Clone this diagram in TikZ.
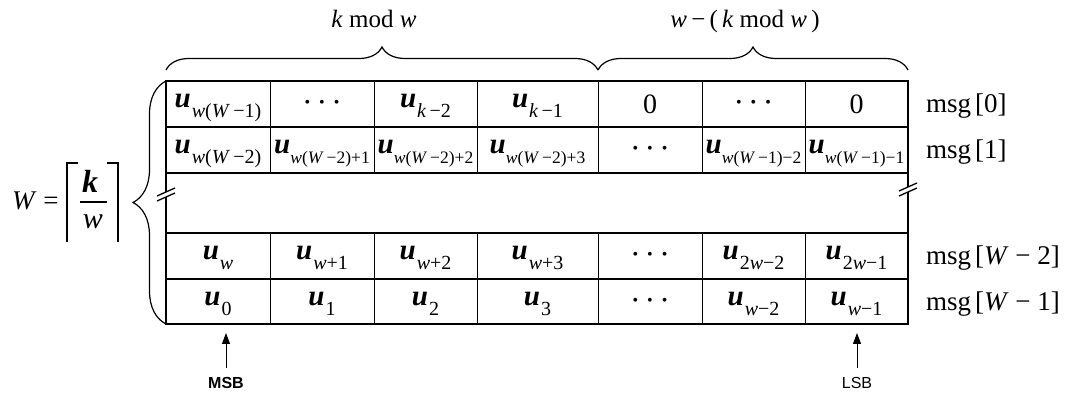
\documentclass[tikz,border=0pt]{standalone}
\usepackage{fontspec}
\setmainfont{Liberation Serif}
\setsansfont{Liberation Sans}
\usetikzlibrary{arrows.meta,positioning,decorations.pathreplacing}
\newcommand{\vi}[1]{\textit{#1}}
\newcommand{\ucell}[1]{\rule[-15pt]{0pt}{38pt}{\fontsize{29}{29}\selectfont\bfseries\itshape u}\kern1pt\raisebox{-10pt}{\fontsize{20}{20}\selectfont #1}}
\newcommand{\ucellx}[1]{\rule[-15pt]{0pt}{38pt}{\fontsize{29}{29}\selectfont\bfseries\itshape u}\raisebox{-10pt}{\fontsize{17.5}{17.5}\selectfont #1}}
\newcommand{\cdotsrow}{{\fontsize{16}{16}\selectfont •\hspace{9pt}•\hspace{9pt}•}}
\newcommand{\msglbl}[1]{msg\hspace{4pt}[#1]}

\begin{document}
\begin{tikzpicture}[x=1pt, y=-1pt,
  grid/.style={line width=2pt, line cap=rect},
  sep/.style={line width=0.9pt},
  cell/.style={inner sep=0pt, font=\fontsize{28}{28}\selectfont},
  msg/.style={anchor=base west, inner sep=0pt, font=\fontsize{27}{27}\selectfont},
  brc/.style={decorate, line width=1.2pt, decoration={brace, amplitude=#1}},
  lbl/.style={anchor=base, inner sep=0pt, font=\fontsize{25}{25}\selectfont},
  bit/.style={inner sep=0pt, font=\sffamily\fontsize{16}{16}\selectfont},
  bitarrow/.style={-{Triangle[length=11pt,width=8pt]}, line width=0.9pt, shorten <=9pt},
  ceil/.style={line width=1.3pt}
]
  \useasboundingbox (0,0) rectangle (1072,395);

  % table frame
  \foreach \y in {81,127,173,233,279,324}
    \draw[grid] (166,\y) -- (908,\y);
  \foreach \x in {270,374,477,598,702,805} {
    \draw[sep] (\x,81) -- (\x,173);
    \draw[sep] (\x,233) -- (\x,324);
  }
  \draw[grid] (166,81) -- (166,324);
  \draw[grid] (908,81) -- (908,324);

  % break marks
  \foreach \bx/\by in {166/197,908/192} {
    \fill[white] (\bx-9,\by+4) -- (\bx+9,\by-4) -- (\bx+9,\by-9) -- (\bx-9,\by-1) -- cycle;
    \draw[line width=1.3pt] (\bx-9,\by+4) -- (\bx+9,\by-4);
    \draw[line width=1.3pt] (\bx-9,\by-1) -- (\bx+9,\by-9);
  }

  % rows
  \foreach \x/\t [count=\i] in {218/{\ucell{\vi{w}(\vi{W}\,−1)}}, 322/{\cdotsrow},
      425.5/{\ucell{\vi{k}\,−2}}, 537.5/{\ucell{\vi{k}\,−1}}, 650/{0},
      753.5/{\cdotsrow}, 856.5/{0}}
    \node[cell] (ra\i) at (\x,104) {\t};
  \foreach \x/\t [count=\i] in {218/{\ucell{\vi{w}(\vi{W}\,−2)}}, 322/{\ucellx{\vi{w}(\vi{W}\,−2)+1}},
      425.5/{\ucellx{\vi{w}(\vi{W}\,−2)+2}}, 537.5/{\ucellx{\vi{w}(\vi{W}\,−2)+3}}, 650/{\cdotsrow},
      753.5/{\ucellx{\vi{w}(\vi{W}\,−1)−2}}, 856.5/{\ucellx{\vi{w}(\vi{W}\,−1)−1}}}
    \node[cell] (rb\i) at (\x,150) {\t};
  \foreach \x/\t [count=\i] in {218/{\ucell{\vi{w}}}, 322/{\ucell{\vi{w}+1}},
      425.5/{\ucell{\vi{w}+2}}, 537.5/{\ucell{\vi{w}+3}}, 650/{\cdotsrow},
      753.5/{\ucell{2\vi{w}−2}}, 856.5/{\ucell{2\vi{w}−1}}}
    \node[cell] (rc\i) at (\x,256) {\t};
  \foreach \x/\t [count=\i] in {218/{\ucell{0}}, 322/{\ucell{1}},
      425.5/{\ucell{2}}, 537.5/{\ucell{3}}, 650/{\cdotsrow},
      753.5/{\ucell{\vi{w}−2}}, 856.5/{\ucell{\vi{w}−1}}}
    \node[cell] (rd\i) at (\x,301.5) {\t};

  % word labels
  \node[msg] (m0) at (926,113) {\msglbl{0}};
  \node[msg] (m1) at (926,159) {\msglbl{1}};
  \node[msg] (m2) at (926,265) {\msglbl{\vi{W} − 2}};
  \node[msg] (m3) at (926,310.5) {\msglbl{\vi{W} − 1}};

  % top braces
  \draw[brc=23pt] (166,70) -- (598,70);
  \draw[brc=23pt] (598,70) -- (908,70);
  \node[lbl] (kmod) at (374,28) {\vi{k} mod \vi{w}};
  \node[lbl] (rest) at (745,28) {\vi{w}\,−\,(\,\vi{k} mod \vi{w}\,)};

  % left brace and W
  \draw[brc=33pt] (166,324) -- (166,81);
  \node[anchor=base west, inner sep=0pt, font=\fontsize{27}{27}\selectfont] (Weq) at (12,210) {\vi{W} =};
  \node[inner sep=0pt, font=\fontsize{32}{32}\selectfont\bfseries\itshape] (fk) at (90,181) {k};
  \node[inner sep=0pt, font=\fontsize{30}{30}\selectfont\itshape] (fw) at (93,222) {w};
  \draw[line width=1.2pt] (80,202) -- (107,202);
  \draw[ceil] (78,163) -| (67,242);
  \draw[ceil] (107,163) -| (118,242);

  % MSB / LSB
  \node[bit, font=\sffamily\bfseries\fontsize{16}{16}\selectfont] (msb) at (226,383) {MSB};
  \node[bit] (lsb) at (857,383) {LSB};
  \coordinate (msbtip) at (226,333);
  \coordinate (lsbtip) at (857,333);
  \draw[bitarrow] (msb) -- (msbtip);
  \draw[bitarrow] (lsb) -- (lsbtip);
\end{tikzpicture}
\end{document}
